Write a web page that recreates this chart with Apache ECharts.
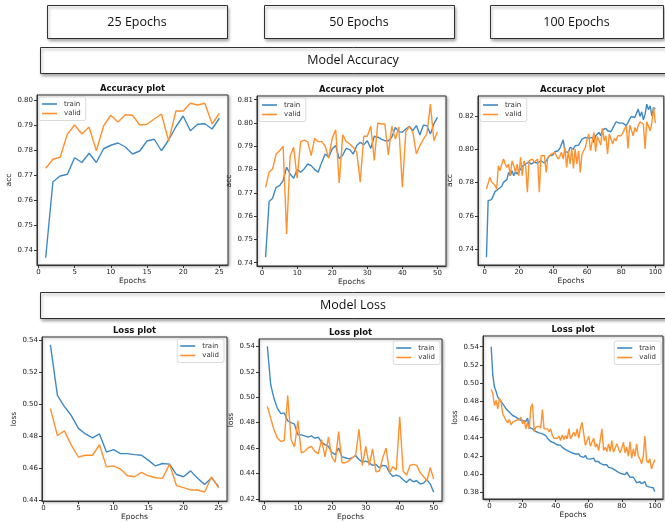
<!DOCTYPE html>
<html><head><meta charset="utf-8">
<script src="https://cdn.jsdelivr.net/npm/echarts@6/dist/echarts.min.js"></script>
<style>html,body{margin:0;padding:0;background:#fff}#c{width:665px;height:522px}</style>
</head><body><div id="c"></div><script>
// ---------- data ----------
const ticks25 = [0, 5, 10, 15, 20, 25];
const ticks50 = [0, 10, 20, 30, 40, 50];
const ticks100 = [0, 20, 40, 60, 80, 100];
const accTicks25 = [0.74, 0.75, 0.76, 0.77, 0.78, 0.79, 0.80];
const accTicks50 = [0.74, 0.75, 0.76, 0.77, 0.78, 0.79, 0.80, 0.81];
const accTicks100 = [0.74, 0.76, 0.78, 0.80, 0.82];
const lossTicks25 = [0.44, 0.46, 0.48, 0.50, 0.52, 0.54];
const lossTicks50 = [0.42, 0.44, 0.46, 0.48, 0.50, 0.52, 0.54];
const lossTicks100 = [0.38, 0.40, 0.42, 0.44, 0.46, 0.48, 0.50, 0.52, 0.54];

const trainAcc25 = [0.7369,0.7673,0.7696,0.7703,0.7769,0.7750,0.7787,0.7750,0.7805,0.7819,0.7828,0.7812,0.7784,0.7796,0.7836,0.7843,0.7797,0.7840,0.7893,0.7936,0.7877,0.7903,0.7905,0.7884,0.7927];
const validAcc25 = [0.7727,0.7763,0.7771,0.7864,0.7900,0.7864,0.7892,0.7797,0.7896,0.7939,0.7912,0.7941,0.7939,0.7900,0.7903,0.7924,0.7944,0.7836,0.7956,0.7956,0.7987,0.7980,0.7987,0.7904,0.7947];

const trainAcc50 = [0.7424,0.7663,0.7677,0.7724,0.7731,0.7753,0.7810,0.7781,0.7763,0.7800,
0.7789,0.7803,0.7824,0.7817,0.7800,0.7789,0.7831,0.7867,0.7853,0.7889,
0.7903,0.7846,0.7863,0.7891,0.7886,0.7867,0.7903,0.7917,0.7906,0.7924,
0.7891,0.7943,0.7939,0.7931,0.7924,0.7924,0.7939,0.7981,0.7963,0.7960,
0.7974,0.7986,0.7967,0.7989,0.7949,0.7991,0.7989,0.7953,0.7996,0.8024];
const validAcc50 = [0.7724,0.7789,0.7803,0.7867,0.7881,0.7900,0.7524,0.7857,0.7896,0.7763,
0.7920,0.7927,0.7920,0.7860,0.7934,0.7920,0.7920,0.7900,0.7849,0.7934,
0.7971,0.7743,0.7949,0.7920,0.7910,0.7896,0.7874,0.7746,0.7943,0.7943,
0.7986,0.7839,0.8000,0.7996,0.7996,0.7863,0.7986,0.7931,0.7983,0.7724,
0.7963,0.7986,0.7960,0.7867,0.7903,0.7931,0.7953,0.8081,0.7924,0.7963];

const trainAcc100 = [0.7352,0.7692,0.7698,0.7698,0.7722,0.7746,0.7742,0.7762,0.7750,0.7778,
0.7802,0.7792,0.7818,0.7862,0.7842,0.7872,0.7842,0.7866,0.7852,0.7866,
0.7878,0.7898,0.7886,0.7912,0.7918,0.7926,0.7912,0.7918,0.7922,0.7912,
0.7918,0.7922,0.7932,0.7922,0.7918,0.7932,0.7946,0.7962,0.7972,0.7966,
0.7986,0.7978,0.7992,0.8006,0.8002,0.8058,0.7986,0.7998,0.7982,0.8012,
0.8018,0.8002,0.8022,0.8018,0.8026,0.8042,0.8062,0.8072,0.8072,0.8062,
0.8066,0.8058,0.8072,0.8042,0.8082,0.8086,0.8102,0.8082,0.8118,0.8106,
0.8126,0.8112,0.8102,0.8106,0.8126,0.8122,0.8166,0.8162,0.8158,0.8146,
0.8158,0.8162,0.8142,0.8146,0.8182,0.8198,0.8206,0.8192,0.8218,0.8242,
0.8198,0.8226,0.8178,0.8212,0.8272,0.8238,0.8262,0.8202,0.8252,0.8242];
const validAcc100 = [0.7762,0.7752,0.7832,0.7806,0.7802,0.7782,0.7762,0.7902,0.7872,0.7912,
0.7942,0.7912,0.7892,0.7912,0.7842,0.7932,0.7902,0.7862,0.7912,0.7842,
0.7952,0.7842,0.7932,0.7902,0.7742,0.7932,0.7922,0.7942,0.7922,0.7932,
0.7942,0.7742,0.7962,0.7972,0.7962,0.7862,0.7952,0.7942,0.7972,0.7962,
0.7982,0.7986,0.7942,0.7958,0.7982,0.7942,0.8012,0.7892,0.7992,0.7912,
0.8006,0.7886,0.8002,0.7912,0.7992,0.7862,0.7972,0.7992,0.8012,0.8062,
0.8092,0.7992,0.8046,0.8102,0.7986,0.8078,0.8086,0.8026,0.8126,0.8052,
0.8082,0.7972,0.8092,0.8082,0.8032,0.8066,0.8052,0.8082,0.8072,0.8082,
0.8102,0.8122,0.8142,0.8006,0.8146,0.8158,0.8082,0.8132,0.8106,0.8146,
0.8166,0.8162,0.8152,0.8002,0.8166,0.8178,0.8112,0.8162,0.8252,0.8158];

const trainLoss25 = [0.5373,0.5056,0.4986,0.4928,0.4849,0.4814,0.4789,0.4814,0.4700,0.4715,0.4690,0.4690,0.4684,0.4680,0.4648,0.4613,0.4628,0.4624,0.4559,0.4545,0.4582,0.4535,0.4497,0.4539,0.4483];
const validLoss25 = [0.4973,0.4804,0.4833,0.4742,0.4669,0.4680,0.4680,0.4746,0.4607,0.4613,0.4593,0.4551,0.4545,0.4572,0.4551,0.4539,0.4535,0.4624,0.4489,0.4477,0.4462,0.4462,0.4448,0.4545,0.4473];

const trainLoss50 = [0.5400,0.5098,0.4987,0.4910,0.4871,0.4876,0.4814,0.4799,0.4788,0.4703,
0.4703,0.4695,0.4685,0.4695,0.4677,0.4685,0.4644,0.4626,0.4613,0.4566,
0.4548,0.4600,0.4530,0.4523,0.4515,0.4523,0.4541,0.4510,0.4489,0.4497,
0.4484,0.4463,0.4471,0.4445,0.4463,0.4458,0.4406,0.4376,0.4386,0.4376,
0.4350,0.4329,0.4355,0.4334,0.4342,0.4316,0.4324,0.4350,0.4316,0.4252];
const validLoss50 = [0.4928,0.4832,0.4742,0.4677,0.4652,0.4659,0.5013,0.4665,0.4608,0.4814,
0.4561,0.4574,0.4600,0.4613,0.4574,0.4556,0.4665,0.4530,0.4685,0.4530,
0.4489,0.4729,0.4484,0.4484,0.4497,0.4523,0.4541,0.4747,0.4463,0.4613,
0.4463,0.4592,0.4412,0.4419,0.4523,0.4600,0.4406,0.4453,0.4427,0.4845,
0.4419,0.4386,0.4463,0.4471,0.4463,0.4406,0.4376,0.4342,0.4445,0.4355];

const trainLoss100 = [0.5400,0.5084,0.4956,0.4908,0.4846,0.4827,0.4798,0.4772,0.4747,0.4717,
0.4700,0.4681,0.4688,0.4644,0.4662,0.4626,0.4615,0.4600,0.4589,0.4589,
0.4570,0.4578,0.4615,0.4516,0.4505,0.4497,0.4490,0.4468,0.4461,0.4453,
0.4468,0.4442,0.4431,0.4424,0.4394,0.4380,0.4358,0.4350,0.4343,0.4340,
0.4322,0.4305,0.4316,0.4294,0.4287,0.4269,0.4258,0.4250,0.4243,0.4232,
0.4243,0.4221,0.4206,0.4221,0.4195,0.4206,0.4184,0.4206,0.4170,0.4190,
0.4165,0.4154,0.4176,0.4139,0.4128,0.4139,0.4117,0.4110,0.4102,0.4091,
0.4102,0.4073,0.4091,0.4066,0.4055,0.4044,0.4036,0.4018,0.4029,0.4003,
0.4020,0.3994,0.4020,0.3994,0.3965,0.3983,0.3965,0.3946,0.3905,0.3886,
0.3916,0.3894,0.3879,0.3916,0.3868,0.3879,0.3857,0.3842,0.3850,0.3807];
const validLoss100 = [0.4930,0.4883,0.4754,0.4809,0.4717,0.4835,0.4791,0.4662,0.4681,0.4589,
0.4563,0.4600,0.4541,0.4570,0.4563,0.4589,0.4570,0.4600,0.4626,0.4552,
0.4589,0.4497,0.4570,0.4497,0.4736,0.4772,0.4468,0.4516,0.4497,0.4527,
0.4505,0.4710,0.4497,0.4505,0.4497,0.4468,0.4497,0.4424,0.4394,0.4405,
0.4394,0.4417,0.4369,0.4431,0.4380,0.4424,0.4387,0.4497,0.4387,0.4394,
0.4461,0.4417,0.4497,0.4394,0.4505,0.4570,0.4442,0.4314,0.4295,0.4417,
0.4306,0.4295,0.4394,0.4295,0.4332,0.4259,0.4248,0.4497,0.4259,0.4295,
0.4248,0.4332,0.4248,0.4369,0.4240,0.4233,0.4332,0.4314,0.4233,0.4284,
0.4350,0.4233,0.4295,0.4196,0.4358,0.4174,0.4277,0.4196,0.4332,0.4196,
0.4167,0.4112,0.4196,0.4417,0.4149,0.4123,0.4167,0.4057,0.4112,0.4160];

const headers = ['25 Epochs', '50 Epochs', '100 Epochs'];
const sectionTitles = ['Model Accuracy', 'Model Loss'];

// ---------- layout ----------
const FONT = 'DejaVu Sans';
const HFONT = 'Open Sans';
const BLUE = '#3f89c4', ORANGE = '#ff912f';

const panels = [
  {grid:{left:37,top:95,width:191,height:170}, x:[-0.2,26.2], xt:ticks25, y:[0.734,0.802], yt:accTicks25, yn:'acc', tr:trainAcc25, va:validAcc25, title:'Accuracy plot', lg:{left:39,top:97}},
  {grid:{left:257,top:96,width:189,height:170}, x:[-1.45,52.45], xt:ticks50, y:[0.7386,0.8116], yt:accTicks50, yn:'acc', tr:trainAcc50, va:validAcc50, title:'Accuracy plot', lg:{left:259,top:98}},
  {grid:{left:478,top:96,width:189,height:169}, x:[-3.95,104.95], xt:ticks100, y:[0.7305,0.8321], yt:accTicks100, yn:'acc', tr:trainAcc100, va:validAcc100, title:'Accuracy plot', lg:{left:480,top:98}},
  {grid:{left:42,top:337,width:185,height:166}, x:[-0.2,26.2], xt:ticks25, y:[0.4392,0.5423], yt:lossTicks25, yn:'loss', tr:trainLoss25, va:validLoss25, title:'Loss plot', lg:{right:441,top:339}},
  {grid:{left:259,top:339,width:183,height:165}, x:[-1.45,52.45], xt:ticks50, y:[0.4182,0.5458], yt:lossTicks50, yn:'loss', tr:trainLoss50, va:validLoss50, title:'Loss plot', lg:{right:225,top:341}},
  {grid:{left:483,top:336,width:180,height:163}, x:[-3.95,104.95], xt:ticks100, y:[0.3726,0.5518], yt:lossTicks100, yn:'loss', tr:trainLoss100, va:validLoss100, title:'Loss plot', lg:{right:4,top:341}}
];

const grids = [], xAxes = [], yAxes = [], series = [], legends = [], graphics = [];
const axisCol = '#333';
panels.forEach((p, i) => {
  grids.push(Object.assign({show:true, borderColor:axisCol, borderWidth:1, backgroundColor:'#fff', containLabel:false,
    shadowColor:'rgba(0,0,0,0.35)', shadowBlur:3, shadowOffsetX:1, shadowOffsetY:1}, p.grid));
  xAxes.push({type:'value', gridIndex:i, min:p.x[0], max:p.x[1],
    name:'Epochs', nameLocation:'middle', nameGap:10,
    nameTextStyle:{fontFamily:FONT, fontSize:7.5, color:'#222'},
    axisLine:{show:true, onZero:false, lineStyle:{color:axisCol, width:1}},
    axisTick:{show:true, length:3, customValues:p.xt, lineStyle:{color:axisCol}},
    axisLabel:{show:true, customValues:p.xt, margin:4, fontFamily:FONT, fontSize:7, color:'#222'},
    splitLine:{show:false}});
  yAxes.push({type:'value', gridIndex:i, min:p.y[0], max:p.y[1],
    name:p.yn, nameLocation:'middle', nameGap:21,
    nameTextStyle:{fontFamily:FONT, fontSize:7.5, color:'#222'},
    axisLine:{show:true, onZero:false, lineStyle:{color:axisCol, width:1}},
    axisTick:{show:true, length:3, customValues:p.yt, lineStyle:{color:axisCol}},
    axisLabel:{show:true, customValues:p.yt, margin:4, fontFamily:FONT, fontSize:7, color:'#222',
      formatter:v => Number(v).toFixed(2)},
    splitLine:{show:false}});
  series.push({name:'train', type:'line', xAxisIndex:i, yAxisIndex:i, showSymbol:false, silent:true,
    data:p.tr.map((v, k) => [k + 1, v]), lineStyle:{color:BLUE, width:1.4}, itemStyle:{color:BLUE}, animation:false});
  series.push({name:'valid', type:'line', xAxisIndex:i, yAxisIndex:i, showSymbol:false, silent:true,
    data:p.va.map((v, k) => [k + 1, v]), lineStyle:{color:ORANGE, width:1.4}, itemStyle:{color:ORANGE}, animation:false});
  legends.push(Object.assign({orient:'vertical', data:['train','valid'], icon:'rect', itemWidth:15, itemHeight:1.6,
    itemGap:1.5, padding:[3,5,3,3], borderColor:'#d0d0d0', borderWidth:0.8, borderRadius:2,
    backgroundColor:'rgba(255,255,255,0.85)', selectedMode:false,
    textStyle:{fontFamily:FONT, fontSize:7, color:'#333', lineHeight:8, padding:[0,0,0,2]}}, p.lg));
  graphics.push({type:'text', x:p.grid.left + p.grid.width / 2, y:p.grid.top - 6,
    style:{text:p.title, fontFamily:FONT, fontSize:8.5, fontWeight:'bold', fill:'#111', textAlign:'center', textVerticalAlign:'middle'}, z:10});
});

// header and section boxes
const boxStyle = {fill:'#fff', stroke:'#333', lineWidth:1, shadowBlur:3, shadowColor:'rgba(0,0,0,0.35)', shadowOffsetX:1, shadowOffsetY:2};
const headerBoxes = [{x:47,y:5,w:180,h:33},{x:264,y:5,w:190,h:33},{x:490,y:5,w:173,h:33}];
headerBoxes.forEach((b, i) => {
  graphics.push({type:'rect', shape:{x:b.x + 0.5, y:b.y + 0.5, width:b.w, height:b.h}, style:boxStyle, z:5});
  graphics.push({type:'text', x:b.x + b.w / 2, y:b.y + b.h / 2 + 0.5,
    style:{text:headers[i], fontFamily:HFONT, fontSize:12.5, fill:'#111', textAlign:'center', textVerticalAlign:'middle'}, z:6});
});
const sectionBoxes = [{x:40,y:47,w:630,h:26},{x:40,y:292,w:630,h:26}];
sectionBoxes.forEach((b, i) => {
  graphics.push({type:'rect', shape:{x:b.x + 0.5, y:b.y + 0.5, width:b.w, height:b.h}, style:boxStyle, z:5});
  graphics.push({type:'text', x:353, y:b.y + b.h / 2 + 0.5,
    style:{text:sectionTitles[i], fontFamily:HFONT, fontSize:12.5, fill:'#111', textAlign:'center', textVerticalAlign:'middle'}, z:6});
});

const chart = echarts.init(document.getElementById('c'), null, {renderer:'canvas'});
chart.setOption({
  animation:false,
  backgroundColor:'#fff',
  grid:grids, xAxis:xAxes, yAxis:yAxes, series:series, legend:legends, graphic:graphics
});
</script></body></html>
